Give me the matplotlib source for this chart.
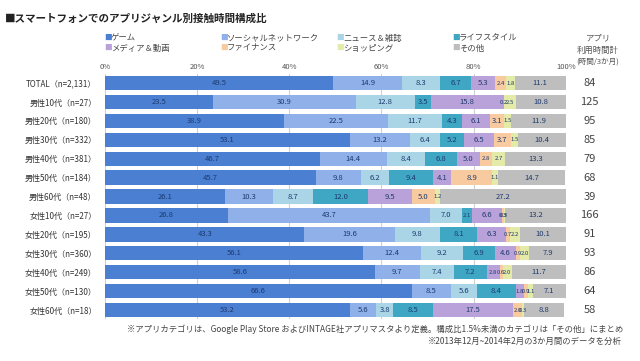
import matplotlib

matplotlib.use("Agg")
import matplotlib.pyplot as plt
import numpy as np

plt.rcParams["font.family"] = ["Noto Sans CJK JP", "DejaVu Sans"]

title = "■スマートフォンでのアプリジャンル別接触時間構成比"

categories = ["ゲーム", "ソーシャルネットワーク", "ニュース＆雑誌", "ライフスタイル",
              "メディア＆動画", "ファイナンス", "ショッピング", "その他"]
colors = ["#4a7fd2", "#8fb0e8", "#a9d5e6", "#3fa7c3",
          "#b9a2d9", "#f8caa0", "#e4eaa8", "#bebebe"]

groups = ["TOTAL（n=2,131）", "男性10代（n=27）", "男性20代（n=180）", "男性30代（n=332）",
          "男性40代（n=381）", "男性50代（n=184）", "男性60代（n=48）", "女性10代（n=27）",
          "女性20代（n=195）", "女性30代（n=360）", "女性40代（n=249）", "女性50代（n=130）",
          "女性60代（n=18）"]

game      = [49.5, 23.5, 38.9, 53.1, 46.7, 45.7, 26.1, 26.8, 43.3, 56.1, 58.6, 66.6, 53.2]
social    = [14.9, 30.9, 22.5, 13.2, 14.4,  9.8, 10.3, 43.7, 19.6, 12.4,  9.7,  8.5,  5.6]
news      = [ 8.3, 12.8, 11.7,  6.4,  8.4,  6.2,  8.7,  7.0,  9.8,  9.2,  7.4,  5.6,  3.8]
lifestyle = [ 6.7,  3.5,  4.3,  5.2,  6.8,  9.4, 12.0,  2.1,  8.1,  6.9,  7.2,  8.4,  8.5]
media     = [ 5.3, 15.8,  6.1,  6.5,  5.0,  4.1,  9.5,  6.6,  6.3,  4.6,  2.8,  1.8, 17.5]
finance   = [ 2.4,  0.2,  3.1,  3.7,  2.8,  8.9,  5.0,  0.3,  0.7,  0.9,  0.6,  0.9,  2.0]
shopping  = [ 1.8,  2.5,  1.5,  1.5,  2.7,  1.1,  1.2,  0.3,  2.2,  2.0,  2.0,  1.1,  0.3]
other     = [11.1, 10.8, 11.9, 10.4, 13.3, 14.7, 27.2, 13.2, 10.1,  7.9, 11.7,  7.1,  8.8]

hours = [84, 125, 95, 85, 79, 68, 39, 166, 91, 93, 86, 64, 58]

series = [game, social, news, lifestyle, media, finance, shopping, other]

fig = plt.figure(figsize=(6.4, 3.61), dpi=100)
ax = fig.add_axes([0.164, 0.115, 0.720, 0.681])

y = np.arange(len(groups))
left = np.zeros(len(groups))
for vals, col in zip(series, colors):
    vals = np.array(vals)
    ax.barh(y, vals, left=left, height=0.76, color=col, edgecolor="none", zorder=2)
    for yi, (l, v) in enumerate(zip(left, vals)):
        fs = 5.5 if v >= 3 else 4.3
        ax.text(l + v / 2, yi, f"{v:.1f}", ha="center", va="center",
                fontsize=fs, color="#1f3a6e", zorder=3)
    left += vals

ax.set_xlim(0, 100)
ax.set_ylim(len(groups) - 0.5, -0.5)
ax.set_xticks([0, 20, 40, 60, 80, 100])
ax.set_xticklabels(["0%", "20%", "40%", "60%", "80%", "100%"])
ax.xaxis.tick_top()
ax.tick_params(axis="x", length=0, labelsize=5.5, labelcolor="#555555", pad=2)
ax.set_yticks(y)
ax.set_yticklabels(groups)
ax.tick_params(axis="y", length=0, labelsize=5.8, labelcolor="#333333", pad=6)
ax.grid(axis="x", color="#d0d0d0", linewidth=0.8, zorder=0)
for s in ax.spines.values():
    s.set_visible(False)

# right column: total usage hours
for yi, h in enumerate(hours):
    ax.text(1.052, yi, str(h), transform=ax.get_yaxis_transform(), ha="center",
            va="center", fontsize=8, color="#444444")

fig.text(598 / 640, 1 - 38 / 361, "アプリ", ha="center", va="center", fontsize=6, color="#555555")
fig.text(598 / 640, 1 - 50 / 361, "利用時間計", ha="center", va="center", fontsize=6, color="#555555")
fig.text(598 / 640, 1 - 62 / 361, "(時間/3か月)", ha="center", va="center", fontsize=5.5, color="#555555")

fig.text(5 / 640, 1 - 19 / 361, title, ha="left", va="center", fontsize=7.6,
         fontweight="bold", color="#222222")

# legend, 4 columns x 2 rows
for i, (cat, col) in enumerate(zip(categories, colors)):
    cx = (104 + 116 * (i % 4)) / 640
    cy = 1 - (38 + 10 * (i // 4)) / 361
    fig.text(cx, cy, "■", ha="left", va="center", fontsize=5.5, color=col)
    fig.text(cx + 7 / 640, cy, cat, ha="left", va="center", fontsize=6, color="#444444")

fig.text(623 / 640, 1 - 329 / 361,
         "※アプリカテゴリは、Google Play Store およびINTAGE社アプリマスタより定義。構成比1.5%未満のカテゴリは「その他」にまとめ",
         ha="right", va="center", fontsize=6.0, color="#444444")
fig.text(622 / 640, 1 - 341 / 361, "※2013年12月~2014年2月の3か月間のデータを分析",
         ha="right", va="center", fontsize=6.0, color="#444444")

fig.savefig("out.png", dpi=100)
plt.close(fig)
